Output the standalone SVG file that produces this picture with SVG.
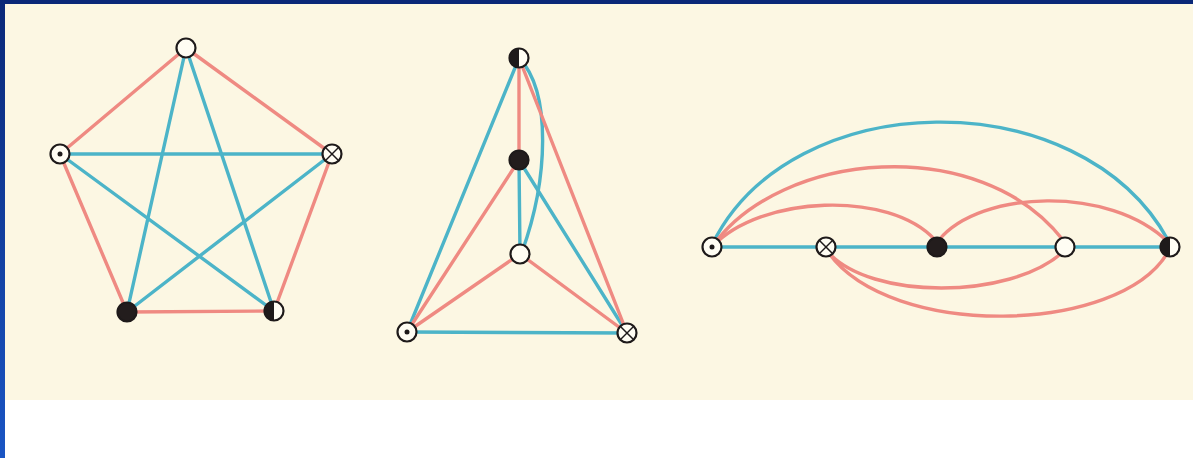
<svg xmlns="http://www.w3.org/2000/svg" width="1193" height="458" viewBox="0 0 1193 458">
<style>
.r{stroke:#ef8a82;stroke-width:3.4;fill:none;stroke-linecap:round}
.b{stroke:#4cb4c8;stroke-width:3.4;fill:none;stroke-linecap:round}
.ring{stroke:#1e1a1a;stroke-width:2.2;fill:#fffdf3}
.ink{fill:#1e1a1a}
.xl{stroke:#1e1a1a;stroke-width:1.5}
</style>
<defs>
<linearGradient id="side" x1="0" y1="0" x2="0" y2="1">
<stop offset="0" stop-color="#0a2878"/>
<stop offset="1" stop-color="#1a55c4"/>
</linearGradient>
<symbol id="nOpen" overflow="visible"><circle class="ring" r="9.5"/></symbol>
<symbol id="nFill" overflow="visible"><circle class="ring" r="9.5" style="fill:#231d1d"/></symbol>
<symbol id="nDot" overflow="visible"><circle class="ring" r="9.5"/><circle class="ink" r="2.5"/></symbol>
<symbol id="nCross" overflow="visible"><circle class="ring" r="9.5"/><line class="xl" x1="-6.5" y1="-6.5" x2="6.5" y2="6.5"/><line class="xl" x1="-6.5" y1="6.5" x2="6.5" y2="-6.5"/></symbol>
<symbol id="nHalf" overflow="visible"><circle class="ring" r="9.5"/><path class="ink" d="M0,-9.5 A9.5,9.5 0 0 0 0,9.5 Z"/></symbol>
</defs>
<rect x="0" y="0" width="1193" height="458" fill="#ffffff"/>
<rect x="5" y="4" width="1188" height="396" fill="#fcf7e3"/>
<rect x="0" y="0" width="1193" height="4" fill="#0a2878"/>
<rect x="0" y="0" width="5" height="458" fill="url(#side)"/>

<g id="connectors">
<!-- pentagon -->
<line class="r" x1="186" y1="48" x2="60" y2="154"/>
<line class="r" x1="186" y1="48" x2="332" y2="154"/>
<line class="r" x1="60" y1="154" x2="127" y2="312"/>
<line class="r" x1="332" y1="154" x2="274" y2="311"/>
<line class="r" x1="127" y1="312" x2="274" y2="311"/>
<line class="b" x1="186" y1="48" x2="127" y2="312"/>
<line class="b" x1="186" y1="48" x2="274" y2="311"/>
<line class="b" x1="60" y1="154" x2="332" y2="154"/>
<line class="b" x1="60" y1="154" x2="274" y2="311"/>
<line class="b" x1="332" y1="154" x2="127" y2="312"/>
<!-- triangle -->
<line class="b" x1="519" y1="58" x2="407" y2="332"/>
<line class="b" x1="407" y1="332" x2="627" y2="333"/>
<line class="b" x1="519" y1="160" x2="520" y2="254"/>
<line class="b" x1="519" y1="160" x2="627" y2="333"/>
<path class="b" d="M519,58 C552,92 548,180 522,252"/>
<line class="r" x1="519" y1="58" x2="519" y2="160"/>
<line class="r" x1="519" y1="58" x2="627" y2="333"/>
<line class="r" x1="519" y1="160" x2="407" y2="332"/>
<line class="r" x1="520" y1="254" x2="407" y2="332"/>
<line class="r" x1="520" y1="254" x2="627" y2="333"/>
<!-- line graph -->
<line class="b" x1="712" y1="247" x2="1170" y2="247"/>
<path class="b" d="M712,245 C790,84 1080,80 1168,240"/>
<path class="r" d="M712,247 C780,150 980,133 1063,240"/>
<path class="r" d="M712,247 C760,195 890,190 935,240"/>
<path class="r" d="M939,240 C980,190 1110,185 1168,242"/>
<path class="r" d="M828,252 C870,300 1010,300 1063,252"/>
<path class="r" d="M828,252 C890,340 1120,335 1168,252"/>
</g>

<g id="p-top"><use href="#nOpen" x="186" y="48"/></g>
<g id="p-left"><use href="#nDot" x="60" y="154"/></g>
<g id="p-right"><use href="#nCross" x="332" y="154"/></g>
<g id="p-bl"><use href="#nFill" x="127" y="312"/></g>
<g id="p-br"><use href="#nHalf" x="274" y="311"/></g>

<g id="t-top"><use href="#nHalf" x="519" y="58"/></g>
<g id="t-mid"><use href="#nFill" x="519" y="160"/></g>
<g id="t-open"><use href="#nOpen" x="520" y="254"/></g>
<g id="t-bl"><use href="#nDot" x="407" y="332"/></g>
<g id="t-br"><use href="#nCross" x="627" y="333"/></g>

<g id="l-dot"><use href="#nDot" x="712" y="247"/></g>
<g id="l-cross"><use href="#nCross" x="826" y="247"/></g>
<g id="l-fill"><use href="#nFill" x="937" y="247"/></g>
<g id="l-open"><use href="#nOpen" x="1065" y="247"/></g>
<g id="l-half"><use href="#nHalf" x="1170" y="247"/></g>
</svg>
